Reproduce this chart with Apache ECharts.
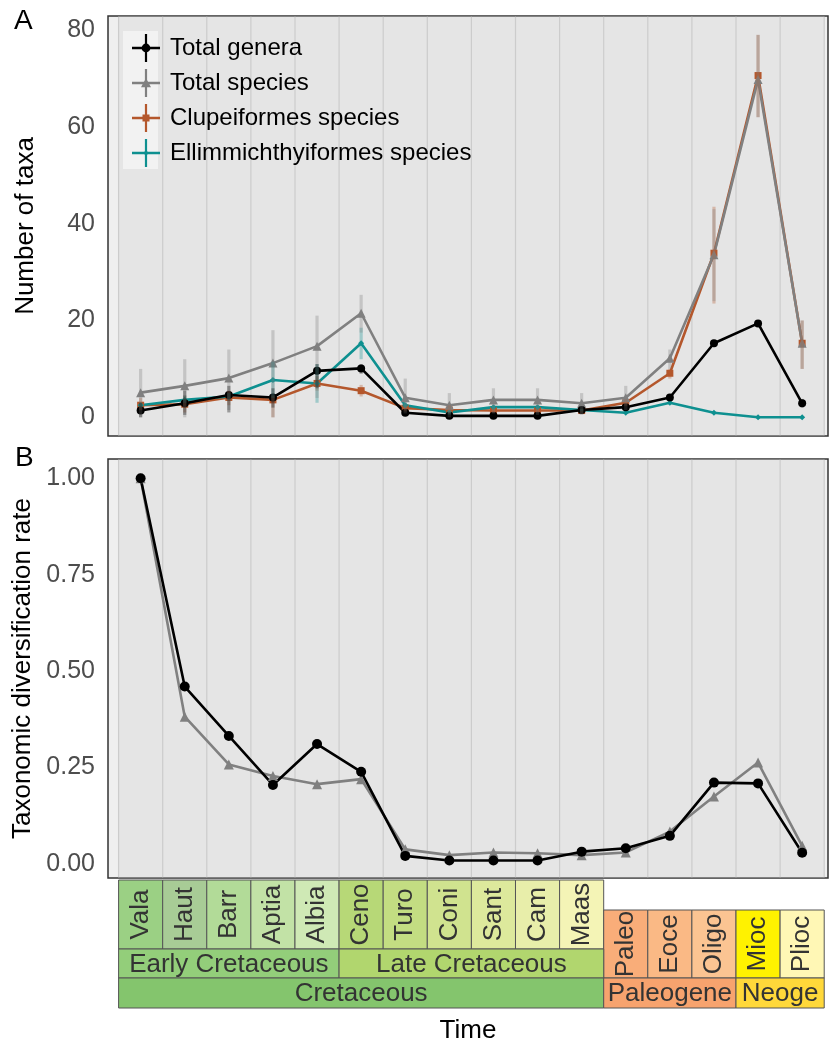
<!DOCTYPE html>
<html>
<head>
<meta charset="utf-8">
<script src="https://cdn.jsdelivr.net/npm/echarts@6/dist/echarts.min.js"></script>
<style>
html,body{margin:0;padding:0;background:#fff;}
#chart{width:829px;height:1048px;}
</style>
</head>
<body>
<div id="chart"></div>
<script>
// ---------------- DATA ----------------
const stageNames = ['Vala','Haut','Barr','Aptia','Albia','Ceno','Turo','Coni','Sant','Cam','Maas','Paleo','Eoce','Oligo','Mioc','Plioc'];
const stageColors = ['#9BD084','#A8CC96','#B2DB98','#C2E2A6','#CFE9B5','#B7D877','#C3DD82','#D0E38F','#DDE99C','#E8EEAA','#F4F4B6','#F9AD79','#FAB985','#FBC492','#FFF200','#FFF7B5'];
const epochNames = ['Early Cretaceous','Late Cretaceous'];
const epochFirst = [0,5];
const epochLast = [4,10];
const epochColors = ['#93CE7A','#B1D66E'];
const periodNames = ['Cretaceous','Paleogene','Neoge'];
const periodFirst = [0,11,14];
const periodLast = [10,13,15];
const periodColors = ['#84C56D','#F7A36E','#FFD83A'];

const seriesNames = ['Total genera','Total species','Clupeiformes species','Ellimmichthyiformes species'];

// Panel A: number of taxa
const totalGenera = [1.4,2.9,4.6,4.1,9.6,10.1,0.95,0.3,0.3,0.3,1.5,2.1,4.1,15.3,19.4,2.9];
const generaLow  = [0,0.5,1,2,6,9,0.5,0,0,0,1,1.5,3.5,14.5,18.8,2];
const generaHigh = [3,5.5,6.5,6,11,11,1.5,0.8,0.8,0.8,2,2.7,4.7,16,20,3.8];

const totalSpecies = [5.1,6.5,8.1,11.2,14.7,21.5,4.05,2.5,3.6,3.6,2.9,4.05,12.2,33.6,69.8,15.3];
const speciesLow  = [0,0,1.5,0,4,17.5,0.8,0,0.8,0.5,0.5,1.5,10,24,62,10];
const speciesHigh = [10,12,14,18,21,25.3,8,5,6,6,5,6.5,14,43,79,20];

const clupeSpecies = [2.5,2.7,4.1,3.6,7.0,5.5,1.9,1.5,1.4,1.4,1.4,3.0,9.1,33.9,70.6,15.3];
const clupeLow  = [1.5,1,2.5,0,5.5,4.3,1.2,0.8,1,1,1,2.3,8,23.5,62,10];
const clupeHigh = [4,4.5,5.5,4.5,8.5,6.7,2.6,2.5,1.8,1.8,1.8,3.7,10,43.5,79,20];

const ellimSpecies = [2.5,3.6,4.3,7.7,7.0,15.3,2.5,1.0,2.1,2.1,1.5,0.95,3.0,0.95,0,0];
const ellimLow  = [2,3,3.5,4,3,12,2,0.5,1.7,1.7,1.2,0.7,2.7,0.8,0,0];
const ellimHigh = [3,4.5,5,11.5,11,18.5,3,1.5,2.5,2.5,1.8,1.2,3.3,1.1,0,0];

// Panel B: taxonomic diversification rate
const rateGenera  = [1.00,0.46,0.332,0.205,0.311,0.239,0.021,0.009,0.009,0.009,0.032,0.041,0.073,0.211,0.209,0.029];
const rateSpecies = [1.00,0.382,0.258,0.228,0.207,0.220,0.038,0.023,0.030,0.028,0.023,0.030,0.084,0.175,0.263,0.047];

const taxaTicks = [0,20,40,60,80];
const rateTicks = [0,0.25,0.5,0.75,1.0];

// ---------------- STYLE / LAYOUT ----------------
const FONT = "'Liberation Sans', Arial, Helvetica, sans-serif";
const colGenera = '#000000', colSpecies = '#808080', colClupe = '#B4572C', colEllim = '#0E9090';
const X_MIN = -0.74, X_MAX = 15.586;
const ROW_STAGE = [0,69], ROW_CENO = [30,98], ROW_EPOCH = [69,98], ROW_PERIOD = [98,128];

const boundaries = [];
for (let k = 0; k <= stageNames.length; k++) boundaries.push(k - 0.5);

const chart = echarts.init(document.getElementById('chart'), null, {renderer:'canvas'});

function pairs(arr){ return arr.map((v,i)=>[i,v]); }
function errData(lo,hi){ return lo.map((v,i)=>[i,v,hi[i]]); }

function bgSeries(gi){
  return {
    type:'custom', xAxisIndex:gi, yAxisIndex:gi, z:1, silent:true, clip:false,
    data:[[boundaries[0], boundaries[boundaries.length-1]]],
    encode:{x:[0,1]},
    renderItem:function(params, api){
      const cs = params.coordSys;
      const a = api.coord([api.value(0), 0])[0];
      const b = api.coord([api.value(1), 0])[0];
      return {type:'rect', shape:{x:a, y:cs.y+0.8, width:b-a, height:cs.height-1.6}, style:{fill:'#E5E5E5'}};
    }
  };
}
function gridLineSeries(gi){
  return {
    type:'custom', xAxisIndex:gi, yAxisIndex:gi, z:1, silent:true, clip:false,
    data:boundaries.map(v=>[v]),
    encode:{x:0},
    renderItem:function(params, api){
      const cs = params.coordSys;
      const x = api.coord([api.value(0), 0])[0];
      return {type:'line', z2:2, shape:{x1:x, y1:cs.y+0.8, x2:x, y2:cs.y+cs.height-0.8}, style:{stroke:'#CCCCCC', lineWidth:1.2}};
    }
  };
}
function errSeries(name, lo, hi, color){
  return {
    type:'custom', name:name, xAxisIndex:0, yAxisIndex:0, z:4, silent:true,
    data:errData(lo,hi),
    encode:{x:0, y:[1,2]},
    renderItem:function(params, api){
      const a = api.coord([api.value(0), api.value(1)]);
      const b = api.coord([api.value(0), api.value(2)]);
      return {type:'line', shape:{x1:a[0], y1:a[1], x2:b[0], y2:b[1]}, style:{stroke:color, lineWidth:3.2, opacity:0.32}};
    }
  };
}
function lineSeries(name, data, color, symbol, size, gi, z){
  return {
    type:'line', name:name, xAxisIndex:gi, yAxisIndex:gi, z:z, silent:true,
    data:pairs(data), symbol:symbol, symbolSize:size, showSymbol:true,
    lineStyle:{color:color, width:2.6}, itemStyle:{color:color}, animation:false
  };
}
function boxSeries(names, first, last, colors, rowFn, rotated){
  return {
    type:'custom', xAxisIndex:2, yAxisIndex:2, z:2, silent:true, clip:false,
    data:names.map((n,i)=>[first[i], last[i]]),
    encode:{x:[0,1]},
    renderItem:function(params, api){
      const i = params.dataIndex;
      const row = rowFn(i);
      const p0 = api.coord([api.value(0)-0.5, row[0]]);
      const p1 = api.coord([api.value(1)+0.5, row[1]]);
      const cx = (p0[0]+p1[0])/2, cy = (p0[1]+p1[1])/2;
      return {type:'group', children:[
        {type:'rect', shape:{x:p0[0], y:p0[1], width:p1[0]-p0[0], height:p1[1]-p0[1]},
         style:{fill:colors[i], stroke:'#555555', lineWidth:1}},
        {type:'text', x:cx, y:cy+(rotated?0:1), rotation: rotated ? Math.PI/2 : 0,
         style:{text:names[i], fill:'#333333', font:'26px '+FONT, align:'center', verticalAlign:'middle'}}
      ]};
    }
  };
}

const iconBar = 'M0,12.8H28V15.2H0Z M12.9,0H15.1V28H12.9Z ';
const legendIcons = [
  'path://'+iconBar+'M9.6,14A4.4,4.4 0 1 1 18.4,14A4.4,4.4 0 1 1 9.6,14Z',
  'path://'+iconBar+'M14,9L19,18.2L9,18.2Z',
  'path://'+iconBar+'M10.5,10.5H17.5V17.5H10.5Z',
  'path://'+iconBar+'M14,11L17,14L14,17L11,14Z'
];

const yAxisCommon = {
  axisLine:{show:false},
  axisTick:{show:true, length:5, lineStyle:{color:'#333333', width:1.2}},
  axisLabel:{color:'#4D4D4D', fontSize:25, fontFamily:FONT, margin:13},
  splitLine:{show:false},
  nameLocation:'middle', nameGap:69,
  nameTextStyle:{color:'#000000', fontSize:26, fontFamily:FONT}
};

const option = {
  animation:false,
  backgroundColor:'#ffffff',
  textStyle:{fontFamily:FONT},
  grid:[
    {left:108, top:16, width:720, height:420, show:true, backgroundColor:'#EFEFEF', borderColor:'#333333', borderWidth:1.5},
    {left:108, top:459, width:720, height:419, show:true, backgroundColor:'#EFEFEF', borderColor:'#333333', borderWidth:1.5},
    {left:108, top:880, width:720, height:128, show:false}
  ],
  xAxis:[
    {type:'value', gridIndex:0, min:X_MIN, max:X_MAX, show:false},
    {type:'value', gridIndex:1, min:X_MIN, max:X_MAX, show:false},
    {type:'value', gridIndex:2, min:X_MIN, max:X_MAX, show:true,
     axisLine:{show:false}, axisTick:{show:false}, axisLabel:{show:false}, splitLine:{show:false},
     name:'Time', nameLocation:'middle', nameGap:10,
     nameTextStyle:{color:'#000000', fontSize:26, fontFamily:FONT, verticalAlign:'top'}}
  ],
  yAxis:[
    Object.assign({}, yAxisCommon, {type:'value', gridIndex:0, min:-3.86, max:82.9, name:'Number of taxa',
      axisTick:Object.assign({}, yAxisCommon.axisTick, {customValues:taxaTicks}),
      axisLabel:Object.assign({}, yAxisCommon.axisLabel, {customValues:taxaTicks, formatter:v=>String(v)})}),
    Object.assign({}, yAxisCommon, {type:'value', gridIndex:1, min:-0.0363, max:1.050, name:'Taxonomic diversification rate',
      axisTick:Object.assign({}, yAxisCommon.axisTick, {customValues:rateTicks}),
      axisLabel:Object.assign({}, yAxisCommon.axisLabel, {customValues:rateTicks, formatter:v=>v.toFixed(2)})}),
    {type:'value', gridIndex:2, min:0, max:128, inverse:true, show:false}
  ],
  legend:{
    orient:'vertical', left:127, top:29, itemWidth:28, itemHeight:28, itemGap:7,
    selectedMode:false, z:5,
    textStyle:{color:'#000000', fontSize:24, fontFamily:FONT, padding:[0,0,0,5]},
    data:seriesNames.map((n,i)=>({name:n, icon:legendIcons[i]}))
  },
  graphic:[
    {type:'rect', left:123, top:31, shape:{width:35, height:138}, style:{fill:'#F2F2F2'}, z:3, silent:true},
    {type:'text', left:14, top:7, style:{text:'A', fill:'#000', font:'28px '+FONT}, z:5},
    {type:'text', left:15, top:444, style:{text:'B', fill:'#000', font:'28px '+FONT}, z:5}
  ],
  series:[
    bgSeries(0), gridLineSeries(0), bgSeries(1), gridLineSeries(1),
    lineSeries(seriesNames[2], clupeSpecies, colClupe, 'rect', 7, 0, 2),
    lineSeries(seriesNames[3], ellimSpecies, colEllim, 'diamond', 6, 0, 2),
    lineSeries(seriesNames[1], totalSpecies, colSpecies, 'triangle', 9, 0, 2),
    lineSeries(seriesNames[0], totalGenera, colGenera, 'circle', 8, 0, 2),
    errSeries('err-clupe', clupeLow, clupeHigh, colClupe),
    errSeries('err-ellim', ellimLow, ellimHigh, colEllim),
    errSeries('err-species', speciesLow, speciesHigh, colSpecies),
    errSeries('err-genera', generaLow, generaHigh, colGenera),
    lineSeries('rate species', rateSpecies, colSpecies, 'triangle', 10, 1, 2),
    lineSeries('rate genera', rateGenera, colGenera, 'circle', 10, 1, 2),
    boxSeries(stageNames, stageNames.map((n,i)=>i), stageNames.map((n,i)=>i), stageColors,
      i => (i < 11 ? ROW_STAGE : ROW_CENO), true),
    boxSeries(epochNames, epochFirst, epochLast, epochColors, () => ROW_EPOCH, false),
    boxSeries(periodNames, periodFirst, periodLast, periodColors, () => ROW_PERIOD, false)
  ]
};
chart.setOption(option);
</script>
</body>
</html>
